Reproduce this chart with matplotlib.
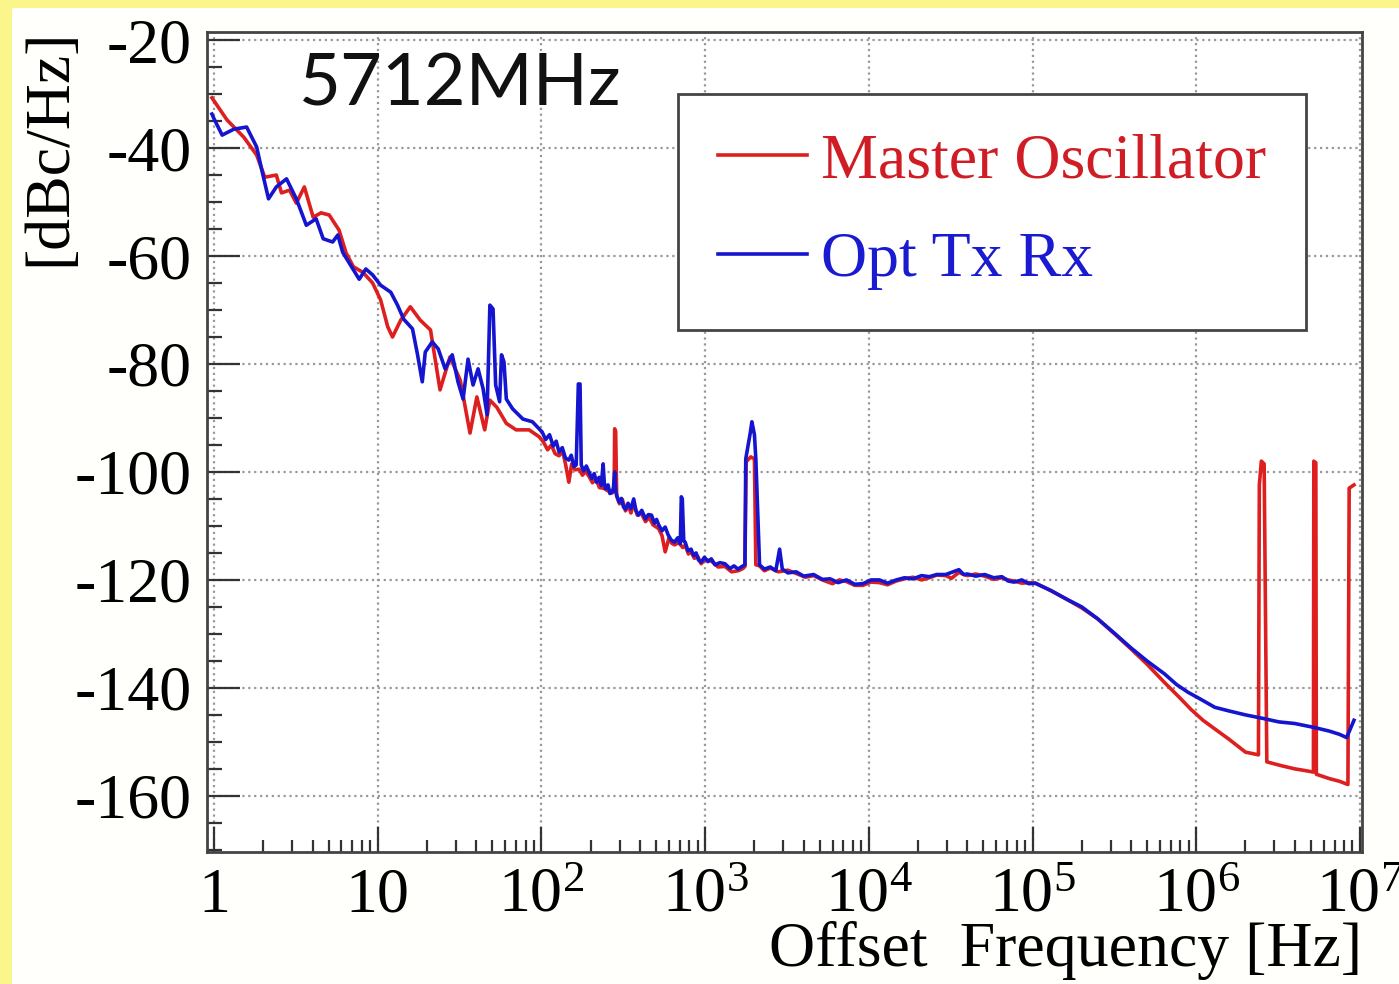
import numpy as np
import matplotlib.pyplot as plt
from matplotlib.patches import Rectangle
from matplotlib.ticker import FixedLocator, FixedFormatter, LogLocator, MultipleLocator, NullFormatter

plt.rcParams['mathtext.fontset'] = 'custom'
plt.rcParams['mathtext.rm'] = 'Liberation Serif'
plt.rcParams['mathtext.it'] = 'Liberation Serif'
plt.rcParams['font.family'] = 'Liberation Serif'

# Master Oscillator (Hz, dBc/Hz)
mo_freq = [0.97, 1.2, 1.52, 1.82, 2.04, 2.4, 2.58, 2.89, 3.18, 3.56, 4.03, 4.5, 5.05, 5.8, 6.4,
           7.1, 8.1, 9.3, 10.4, 11.5, 12.3, 13.8, 15.8, 18.2, 21, 24, 27.6, 31.9, 36.6, 40.3,
           45, 48.4, 53.3, 61, 70, 84, 97, 103, 109, 115, 121, 128, 135, 141, 147, 153, 160,
           170, 178, 186, 195, 205, 215, 226, 240, 255, 270, 278, 280, 284, 288, 300, 312, 326,
           340, 352, 366, 385, 405, 432, 455, 480, 520, 545, 570, 600, 625, 650, 690, 730, 755,
           790, 820, 860, 900, 945, 1000, 1090, 1200, 1320, 1450, 1590, 1700, 1750, 1780, 1900,
           2000, 2040, 2150, 2300, 2500, 2800, 3200, 3600, 4100, 4600, 5300, 6000, 6600, 7300,
           8200, 9200, 10300, 11600, 13000, 14700, 16500, 18600, 21000, 23400, 26000, 29500,
           32000, 35500, 38000, 40000, 45000, 51000, 58000, 65000, 71000, 77000, 86000, 95000,
           1.04e5, 1.3e5, 1.6e5, 2.0e5, 2.5e5, 3.2e5, 4.0e5, 5.0e5, 6.4e5, 7.8e5, 9.3e5, 1.1e6,
           1.3e6, 1.6e6, 2.0e6, 2.4e6, 2.43e6, 2.5e6, 2.6e6, 2.7e6, 3.3e6, 4.0e6, 4.6e6, 5.2e6,
           5.23e6, 5.38e6, 5.42e6, 6.5e6, 7.5e6, 8.45e6, 8.6e6, 9.2e6]
mo_db = [-30.7, -34.8, -38.0, -41.3, -45.4, -45.0, -48.3, -47.8, -50.2, -47.2, -52.8, -52.0,
         -52.4, -55.2, -59.4, -62.0, -63.0, -65.0, -68.1, -73.1, -75.0, -71.9, -69.4, -71.9,
         -73.7, -84.8, -78.7, -83.0, -92.8, -86.1, -92.2, -86.7, -88.0, -91.0, -92.2, -92.2,
         -93.5, -94.5, -95.9, -95.0, -96.6, -97.0, -96.2, -98.9, -101.9, -98.5, -99.6, -99.5,
         -100.6, -99.9, -100.8, -102.0, -101.3, -102.9, -103.0, -103.5, -103.9, -103.5,
         -92.0, -92.5, -104.5, -105.9, -105.1, -107.2, -106.3, -107.6, -105.8, -108.0,
         -107.5, -109.2, -108.4, -109.8, -110.5, -111.8, -114.8, -112.3, -113.2, -113.5,
         -113.1, -114.0, -113.6, -115.2, -114.8, -116.0, -115.6, -117.0, -116.2, -116.5,
         -117.6, -117.5, -118.5, -118.3, -117.9, -117.5, -98.1, -97.2, -97.6, -117.2, -117.4,
         -118.3, -117.8, -118.5, -118.2, -118.8, -119.5, -119.2, -120.1, -120.7, -120.0,
         -120.3, -121.0, -121.0, -120.4, -120.5, -120.9, -120.2, -119.8, -119.5, -120.0,
         -119.6, -119.1, -119.2, -119.7, -118.6, -119.0, -119.2, -118.9, -119.3, -119.9,
         -119.6, -120.0, -120.2, -120.6, -120.5, -120.6, -122.0, -123.5, -125.2, -127.2,
         -130.1, -132.8, -135.6, -139.0, -141.6, -144.0, -146.0, -147.6, -149.6, -151.9,
         -152.4, -102.4, -98.0, -98.5, -153.7, -154.4, -155.0, -155.3, -155.6, -98.0, -98.3,
         -156.0, -156.8, -157.3, -157.9, -103.0, -102.4]

# Opt Tx Rx
tx_freq = [0.97, 1.0, 1.12, 1.32, 1.58, 1.82, 1.95, 2.15, 2.4, 2.77, 3.18, 3.66, 4.2, 4.64, 5.3,
           5.7, 6.1, 7.05, 7.7, 8.45, 9.3, 10.4, 12.0, 13.2, 14.4, 16.3, 17.5, 18.7, 19.5, 21.5,
           23.4, 25.8, 28.5, 30.9, 33.2, 35.6, 38.2, 41, 44, 46.5, 48.4, 50.6, 52.5, 55.5, 57,
           59, 61, 66.6, 77, 88, 101, 106, 112, 118, 123, 128, 134, 140, 147, 152, 158, 163,
           168, 172, 175, 181, 188, 195, 203, 210, 217, 225, 232, 238, 242, 246, 255, 262, 270,
           275, 280, 284, 288, 298, 308, 317, 326, 338, 352, 366, 378, 392, 410, 432, 450, 470,
           490, 505, 520, 545, 570, 595, 620, 650, 680, 705, 715, 725, 740, 755, 785, 820, 850,
           880, 910, 945, 990, 1040, 1090, 1150, 1230, 1320, 1420, 1500, 1590, 1660, 1750, 1770,
           1890, 1930, 2000, 2040, 2150, 2300, 2500, 2700, 2850, 2960, 3200, 3600, 4000, 4600,
           5200, 5800, 6500, 7300, 8200, 9200, 10300, 11600, 13000, 14700, 16500, 18600, 21000,
           23400, 26000, 29500, 32000, 35500, 38000, 40000, 45000, 51000, 58000, 65000, 71000,
           77000, 86000, 95000, 1.04e5, 1.3e5, 1.6e5, 2.0e5, 2.5e5, 3.2e5, 4.0e5, 5.0e5, 6.4e5,
           7.6e5, 8.9e5, 1.05e6, 1.3e6, 1.6e6, 2.0e6, 2.6e6, 3.2e6, 4.0e6, 5.2e6, 6.5e6, 7.5e6,
           8.3e6, 9.2e6]
tx_db = [-33.7, -34.6, -37.6, -36.5, -36.1, -39.8, -43.9, -49.4, -47.2, -45.7, -49.4, -54.3,
         -53.1, -56.8, -57.4, -56.1, -59.3, -62.4, -64.3, -62.4, -63.5, -65.4, -66.7, -69.1,
         -71.7, -73.5, -78.3, -83.3, -77.8, -75.9, -77.2, -80.9, -78.3, -83.3, -86.5, -79.1,
         -83.9, -80.9, -84.6, -89.4, -69.1, -69.8, -83.9, -87.0, -78.3, -79.6, -86.5, -88.3,
         -90.2, -90.7, -92.6, -94.0, -93.1, -95.2, -94.3, -96.3, -95.5, -97.4, -97.8, -96.9,
         -99.0, -98.7, -83.7, -83.7, -98.7, -99.8, -98.9, -100.0, -101.2, -100.3, -101.9,
         -101.0, -102.5, -98.5, -102.0, -103.1, -102.4, -104.0, -103.7, -103.0, -100.0,
         -103.5, -104.3, -105.6, -104.9, -106.5, -106.9, -105.8, -106.8, -105.0, -107.2,
         -108.0, -107.1, -108.7, -107.9, -108.0, -109.5, -108.8, -109.8, -110.9, -110.2,
         -111.7, -112.6, -113.0, -112.2, -113.3, -104.6, -105.0, -112.8, -113.0, -114.6,
         -114.3, -115.5, -115.0, -116.3, -116.7, -115.8, -116.6, -116.1, -117.2, -116.8,
         -117.0, -117.9, -117.4, -118.0, -117.6, -117.2, -97.6, -92.6, -90.7, -93.1, -97.6,
         -117.2, -118.0, -117.6, -118.3, -114.3, -118.0, -118.7, -118.5, -119.3, -119.0,
         -119.9, -119.8, -120.5, -120.0, -120.8, -120.7, -120.0, -120.0, -120.6, -120.0,
         -119.6, -119.8, -119.2, -119.4, -119.0, -119.0, -118.6, -118.1, -119.0, -118.9,
         -119.3, -119.0, -119.6, -119.4, -120.2, -120.4, -120.0, -120.7, -120.6, -122.0,
         -123.5, -125.0, -127.2, -130.0, -132.6, -135.0, -137.4, -139.4, -140.8, -142.0,
         -143.6, -144.3, -145.0, -145.7, -146.3, -146.6, -147.3, -148.0, -148.6, -149.2,
         -146.0]

decades = [1, 10, 1e2, 1e3, 1e4, 1e5, 1e6, 1e7]
xlabels = ['1', '10', r'$10^{2}$', r'$10^{3}$', r'$10^{4}$', r'$10^{5}$', r'$10^{6}$', r'$10^{7}$']
yticks = [-160, -140, -120, -100, -80, -60, -40, -20]
ylabels = ['-160', '-140', '-120', '-100', '-80', '-60', '-40', '-20']

fig = plt.figure(figsize=(13.99, 9.84), dpi=100, facecolor='#faf68c')
fig.patches.append(Rectangle((12 / 1399, 0), 1, 1 - 8 / 984, transform=fig.transFigure,
                             facecolor='#fffffb', edgecolor='none', zorder=-1))
ax = fig.add_axes([207 / 1399, 1 - 852 / 984, (1362 - 207) / 1399, (852 - 32) / 984])

ax.plot(mo_freq, mo_db, color='#dd1f1f', lw=2.6, label='Master Oscillator')
ax.plot(tx_freq, tx_db, color='#1515d0', lw=2.6, label='Opt Tx Rx')

ax.set_xscale('log')
ax.set_xlim(0.905, 1.03e7)
ax.set_ylim(-170.4, -18.5)

ax.xaxis.set_major_locator(FixedLocator(decades))
ax.xaxis.set_major_formatter(FixedFormatter(xlabels))
ax.xaxis.set_minor_locator(LogLocator(base=10, subs=np.arange(2, 10), numticks=20))
ax.xaxis.set_minor_formatter(NullFormatter())
ax.yaxis.set_major_locator(FixedLocator(yticks))
ax.yaxis.set_major_formatter(FixedFormatter(ylabels))
ax.yaxis.set_minor_locator(MultipleLocator(5))

ax.tick_params(axis='both', which='both', direction='in', color='#333333', width=1.6)
ax.tick_params(axis='x', which='major', length=18, pad=43, labelsize=46)
ax.tick_params(axis='x', which='minor', length=9)
ax.tick_params(axis='y', which='major', length=24, pad=11, labelsize=46)
ax.tick_params(axis='y', which='minor', length=11)
for lbl in ax.get_xticklabels():
    lbl.set_va('baseline')

ax.grid(True, which='major', linestyle=':', color='#999999', lw=1.6)
for s in ax.spines.values():
    s.set_color('#444444')
    s.set_linewidth(2)

ax.text(0.08, 0.935, '5712MHz', transform=ax.transAxes, fontsize=52, family='Lato',
        va='center', ha='left', color='#111111')

leg = ax.legend(loc='upper left', bbox_to_anchor=(0.408, 0.925), fontsize=46,
                fancybox=False, framealpha=1, edgecolor='#444444', handlelength=1.4,
                handletextpad=0.22, borderpad=0.62, labelspacing=0.62, borderaxespad=0)
leg.get_frame().set_linewidth(2)
for txt, c in zip(leg.get_texts(), ['#d01c24', '#1a1ad0']):
    txt.set_color(c)

fig.text(50 / 1399, 1 - 28 / 984, '[dBc/Hz]', rotation=90, ha='center', va='top', fontsize=46)
fig.text(1362 / 1399, 0.004, 'Offset  Frequency [Hz]', ha='right', va='bottom', fontsize=46)

fig.savefig('out.png', dpi=100, facecolor=fig.get_facecolor())
